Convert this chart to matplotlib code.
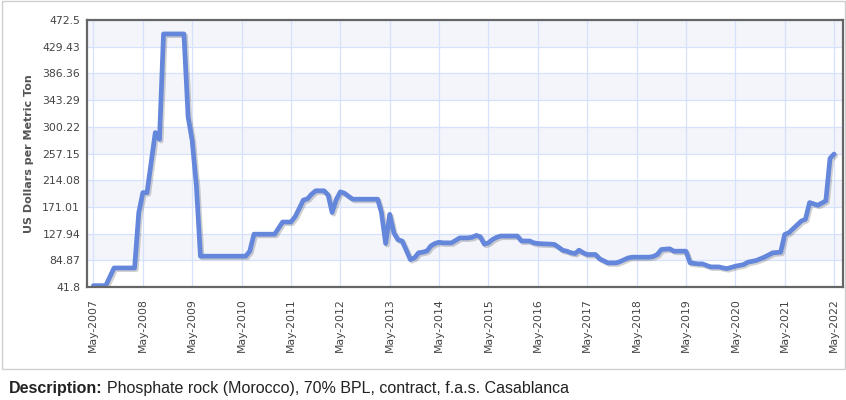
import numpy as np
import pandas as pd
import matplotlib
matplotlib.use("Agg")
import matplotlib.pyplot as plt
import matplotlib.dates as mdates
import matplotlib.patheffects as pe
from matplotlib.patches import Rectangle

# Phosphate rock price, vertices (month, USD per metric ton)
months = [
    "2007-05", "2007-08", "2007-10", "2008-03", "2008-04", "2008-05", "2008-06",
    "2008-08", "2008-09", "2008-10", "2009-03", "2009-04", "2009-05", "2009-06",
    "2009-07", "2010-06", "2010-07", "2010-08", "2011-01", "2011-03", "2011-05",
    "2011-06", "2011-07", "2011-08", "2011-09", "2011-10", "2011-11", "2012-01",
    "2012-02", "2012-03", "2012-04", "2012-05", "2012-06", "2012-07", "2012-08",
    "2013-02", "2013-03", "2013-04", "2013-05", "2013-06", "2013-07", "2013-08",
    "2013-09", "2013-10", "2013-11", "2013-12", "2014-01", "2014-02", "2014-03",
    "2014-04", "2014-05", "2014-06", "2014-08", "2014-09", "2014-10", "2014-12",
    "2015-01", "2015-02", "2015-03", "2015-04", "2015-05", "2015-06", "2015-07",
    "2015-08", "2015-12", "2016-01", "2016-03", "2016-04", "2016-05", "2016-06",
    "2016-08", "2016-09", "2016-10", "2016-11", "2016-12", "2017-01", "2017-02",
    "2017-03", "2017-04", "2017-05", "2017-07", "2017-08", "2017-10", "2017-12",
    "2018-01", "2018-03", "2018-04", "2018-08", "2018-09", "2018-10", "2018-11",
    "2019-01", "2019-02", "2019-05", "2019-06", "2019-08", "2019-09", "2019-10",
    "2019-11", "2020-01", "2020-02", "2020-03", "2020-05", "2020-07", "2020-08",
    "2020-10", "2020-12", "2021-02", "2021-04", "2021-05", "2021-06", "2021-09",
    "2021-10", "2021-11", "2022-01", "2022-03", "2022-04", "2022-05",
]
prices = [
    44, 44, 72.5, 72.5, 162, 194, 194,
    291, 280, 450, 450, 316, 278, 205,
    91.5, 91.5, 99.6, 127, 127, 146.6, 146.6,
    155, 168, 182, 184, 191.5, 197, 197,
    190, 162, 183, 195.3, 193, 188, 183.4,
    183.4, 162, 112, 159, 129, 118, 116,
    101, 86, 89, 97, 98, 100, 108,
    112, 114, 113, 113, 117, 121, 121,
    122, 125, 123, 111, 113, 118.5, 122,
    124, 124, 116, 116, 113, 112, 111.5,
    111, 110.4, 106, 101, 99.6, 97, 95.8,
    101.2, 97, 94.2, 94.2, 87.2, 80.7, 80.7,
    83, 88.8, 89.9, 89.9, 91, 94.2, 102.3,
    103.4, 99.6, 99.6, 80.7, 79.1, 79.1, 76.5,
    74.2, 74.2, 72.5, 71.5, 75.3, 78, 81.8,
    84.5, 89.9, 96.9, 98, 126.6, 129.4, 148.3,
    151, 178, 173.7, 180.7, 249.3, 256.3,
]

y_ticks = [41.8, 84.87, 127.94, 171.01, 214.08, 257.15, 300.22,
           343.29, 386.36, 429.43, 472.5]
x_tick_years = list(range(2007, 2023))

dates = pd.to_datetime(months, format="%Y-%m")

fig = plt.figure(figsize=(8.46, 4.0), dpi=100)
ax = fig.add_axes([87 / 846, 1 - 287 / 400, (843 - 87) / 846, (287 - 20) / 400])

# alternating bands
for i in range(len(y_ticks) - 1):
    if i % 2 == 1:
        ax.axhspan(y_ticks[i], y_ticks[i + 1], color="#f3f5fb", zorder=0, lw=0)

ax.plot(dates, prices, color="#6487dc", lw=3.4, solid_joinstyle="round",
        solid_capstyle="round", zorder=3,
        path_effects=[pe.SimpleLineShadow(offset=(1.2, -1.2), alpha=0.18),
                      pe.Normal()])

ax.set_ylim(y_ticks[0], y_ticks[-1])
ax.set_yticks(y_ticks)
ax.set_yticklabels([f"{v:g}" for v in y_ticks])

xt = [pd.Timestamp(f"{y}-05-01") for y in x_tick_years]
ax.set_xticks(xt)
ax.set_xticklabels([f"May-{y}" for y in x_tick_years], rotation=90, va="top")
ax.set_xlim(pd.Timestamp("2007-03-15"), pd.Timestamp("2022-07-06"))

ax.grid(True, color="#d6e2fb", lw=0.9, zorder=1)
ax.set_axisbelow(True)
ax.tick_params(axis="both", length=0, labelsize=7.8, colors="#444444")
ax.tick_params(axis="x", pad=8)
ax.tick_params(axis="y", pad=5)
for s in ax.spines.values():
    s.set_color("#666666")
    s.set_linewidth(1.6)
    s.set_zorder(5)

ax.set_ylabel("US Dollars per Metric Ton", fontsize=8, fontweight="bold",
              color="#555555", labelpad=6)

# outer light frame around chart block
fig.patches.append(Rectangle((2 / 846, 1 - 369 / 400), 843 / 846, 368 / 400,
                             transform=fig.transFigure, fill=False,
                             edgecolor="#cfcfcf", lw=1.0))

fam = ["Liberation Sans", "DejaVu Sans"]
t1 = fig.text(9 / 846, 1 - 393 / 400, "Description:", fontsize=11.5,
              fontweight="bold", family=fam, color="#222222", va="baseline")
fig.canvas.draw()
bb = t1.get_window_extent()
fig.text(bb.x1 / 846 + 4 / 846, 1 - 393 / 400,
         "Phosphate rock (Morocco), 70% BPL, contract, f.a.s. Casablanca",
         fontsize=11.5, family=fam, color="#222222", va="baseline")

fig.savefig("out.png", dpi=100)
